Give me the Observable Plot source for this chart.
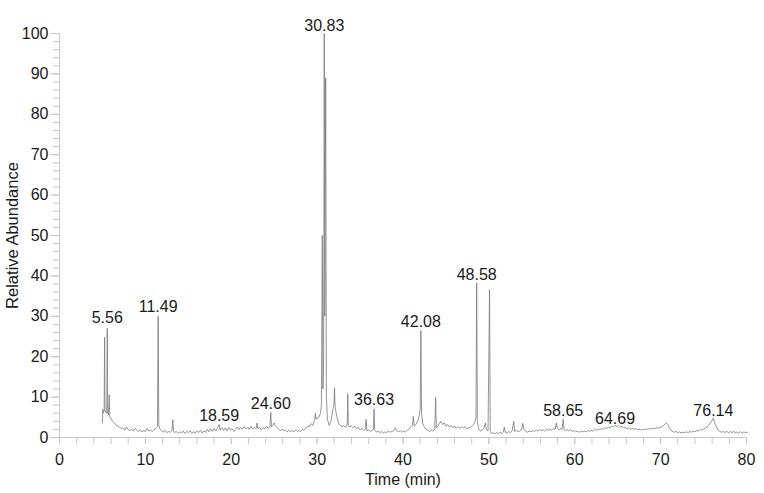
<!DOCTYPE html>
<html>
<head>
<meta charset="utf-8">
<script src="https://cdn.jsdelivr.net/npm/d3@7"></script>
<script src="https://cdn.jsdelivr.net/npm/@observablehq/plot@0.6"></script>
<style>
  html, body { margin: 0; padding: 0; background: #fff; }
</style>
</head>
<body>
<div id="chart"></div>
<script>
// Chromatogram trace: [time (min), relative abundance (%)]
const chromatogram = [
  [5.00,3.6],[5.05,7.0],[5.10,6.0],[5.20,6.5],[5.25,24.8],[5.30,6.8],[5.40,6.2],[5.50,6.0],[5.56,27.0],[5.62,6.0],
  [5.70,5.6],[5.80,10.6],[5.86,5.2],[6.00,4.6],[6.20,4.0],[6.40,3.6],[6.60,3.0],[6.80,2.8],[7.00,2.5],[7.20,2.2],
  [7.40,2.4],[7.60,1.8],[7.80,2.6],[8.00,1.9],[8.20,1.7],[8.40,2.1],[8.60,1.6],[8.80,2.3],[9.00,1.8],[9.20,1.5],
  [9.40,1.9],[9.60,1.4],[9.80,1.7],[10.00,1.5],[10.20,2.2],[10.40,1.6],[10.60,1.8],[10.80,1.5],[11.00,1.9],[11.20,2.2],
  [11.40,2.6],[11.49,30.0],[11.56,3.0],[11.70,2.0],[11.90,1.6],[12.10,1.3],[12.30,1.8],[12.50,1.2],[12.70,1.5],[12.90,1.3],
  [13.10,1.8],[13.20,4.4],[13.28,1.6],[13.40,1.2],[13.60,1.5],[13.80,1.0],[14.00,1.4],[14.20,1.1],[14.40,1.6],[14.60,1.0],
  [14.80,1.5],[15.00,1.2],[15.20,1.7],[15.40,1.0],[15.60,1.4],[15.80,1.1],[16.00,1.6],[16.20,1.2],[16.40,1.8],[16.60,1.1],
  [16.80,1.6],[17.00,1.3],[17.20,2.0],[17.40,1.4],[17.60,2.2],[17.80,1.5],[18.00,2.3],[18.20,1.6],[18.40,2.4],[18.59,3.2],
  [18.70,1.8],[18.90,2.5],[19.10,1.7],[19.30,2.4],[19.50,1.6],[19.70,2.5],[19.90,1.8],[20.10,2.2],[20.30,1.5],[20.50,2.0],
  [20.70,2.6],[20.90,1.9],[21.10,2.5],[21.30,2.0],[21.50,2.7],[21.70,2.1],[21.90,2.6],[22.10,2.0],[22.30,2.8],[22.50,2.1],
  [22.70,2.5],[22.90,2.2],[23.00,3.6],[23.10,2.2],[23.30,2.6],[23.50,1.9],[23.70,2.5],[23.90,2.1],[24.10,2.8],[24.30,2.3],
  [24.50,2.6],[24.60,6.2],[24.68,2.6],[24.80,3.0],[25.00,3.6],[25.10,3.0],[25.30,2.5],[25.50,2.0],[25.70,1.7],[25.90,2.1],
  [26.10,1.6],[26.30,1.9],[26.50,1.4],[26.70,1.8],[26.90,1.5],[27.10,1.7],[27.30,1.4],[27.50,1.9],[27.70,1.5],[27.90,1.7],
  [28.10,1.5],[28.30,2.0],[28.50,1.8],[28.70,2.3],[28.90,2.8],[29.10,2.6],[29.30,3.4],[29.50,3.0],[29.70,4.2],[29.80,6.0],
  [29.90,4.5],[30.00,4.8],[30.20,5.0],[30.40,6.0],[30.50,8.0],[30.60,50.0],[30.68,12.0],[30.76,20.0],[30.83,100.0],[30.90,30.0],
  [31.00,89.0],[31.08,10.0],[31.20,4.5],[31.40,3.0],[31.60,4.0],[31.80,6.5],[31.95,8.0],[32.02,12.3],[32.10,7.5],[32.30,5.0],
  [32.50,3.6],[32.70,3.0],[32.90,2.6],[33.10,3.0],[33.30,2.5],[33.50,3.2],[33.57,10.8],[33.64,3.0],[33.80,2.6],[34.00,2.9],
  [34.20,2.4],[34.40,2.8],[34.60,2.2],[34.80,2.5],[35.00,1.9],[35.20,2.3],[35.40,1.8],[35.60,2.0],[35.70,4.5],[35.80,1.6],
  [36.00,1.9],[36.20,1.5],[36.40,1.8],[36.55,2.0],[36.63,7.1],[36.70,1.8],[36.90,1.4],[37.10,1.6],[37.30,1.2],[37.50,1.5],
  [37.70,1.1],[37.90,1.4],[38.10,1.2],[38.30,1.6],[38.50,1.3],[38.70,1.5],[38.90,1.7],[39.10,2.4],[39.30,1.6],[39.50,1.4],
  [39.70,1.7],[39.90,1.3],[40.10,1.6],[40.30,1.4],[40.50,1.8],[40.70,2.0],[40.90,2.6],[41.10,3.0],[41.20,5.2],[41.30,2.8],
  [41.50,3.2],[41.70,4.0],[41.90,5.5],[42.00,7.0],[42.08,26.5],[42.16,6.0],[42.30,3.4],[42.50,2.6],[42.70,2.0],[42.90,1.8],
  [43.10,1.5],[43.30,1.8],[43.50,1.6],[43.70,2.0],[43.80,9.9],[43.88,2.4],[44.00,2.6],[44.20,3.4],[44.40,4.0],[44.60,3.2],
  [44.80,3.6],[45.00,2.8],[45.20,3.2],[45.40,2.6],[45.60,3.0],[45.80,2.4],[46.00,2.8],[46.20,2.3],[46.40,2.7],[46.60,2.2],
  [46.80,2.6],[47.00,2.3],[47.20,2.7],[47.40,2.2],[47.60,2.4],[47.80,2.5],[48.00,2.8],[48.20,3.2],[48.40,4.0],[48.50,5.0],
  [48.58,38.3],[48.66,4.0],[48.80,2.2],[49.00,1.6],[49.20,1.8],[49.40,2.2],[49.60,3.6],[49.70,2.0],[49.90,1.6],[50.08,36.6],
  [50.16,1.5],[50.30,1.0],[50.50,1.2],[50.70,0.9],[50.90,1.2],[51.10,0.9],[51.30,1.3],[51.50,1.0],[51.70,1.4],[51.80,2.6],
  [51.90,1.3],[52.10,1.1],[52.30,1.5],[52.50,1.2],[52.70,1.6],[52.90,4.0],[53.00,1.5],[53.20,1.8],[53.40,1.4],[53.60,1.7],
  [53.80,1.9],[53.95,3.5],[54.10,2.0],[54.30,1.5],[54.50,1.3],[54.70,1.6],[54.90,1.4],[55.10,1.7],[55.30,1.5],[55.50,1.9],
  [55.70,1.6],[55.90,2.0],[56.10,1.7],[56.30,1.9],[56.50,1.6],[56.70,2.0],[56.90,1.8],[57.10,2.1],[57.30,1.8],[57.50,2.2],
  [57.70,2.0],[57.85,3.6],[58.00,2.2],[58.20,1.9],[58.40,2.3],[58.52,2.0],[58.65,4.5],[58.75,2.0],[58.90,1.7],[59.10,2.0],
  [59.30,1.6],[59.50,1.9],[59.70,1.5],[59.90,1.7],[60.10,1.4],[60.30,1.6],[60.50,1.3],[60.70,1.5],[60.90,1.4],[61.10,1.6],
  [61.30,1.4],[61.50,1.7],[61.70,1.5],[61.90,1.8],[62.10,1.6],[62.30,2.0],[62.50,1.8],[62.70,2.1],[62.90,1.9],[63.10,2.2],
  [63.30,2.0],[63.50,2.4],[63.70,2.2],[63.90,2.6],[64.10,2.4],[64.30,2.8],[64.50,2.6],[64.69,3.0],[64.90,2.7],[65.10,2.9],
  [65.30,2.5],[65.50,2.8],[65.70,2.3],[65.90,2.5],[66.10,2.1],[66.30,2.4],[66.50,2.0],[66.70,2.3],[66.90,2.0],[67.10,2.2],
  [67.30,1.9],[67.50,2.1],[67.70,1.8],[67.90,2.0],[68.10,1.9],[68.30,2.1],[68.50,2.0],[68.70,2.2],[68.90,2.1],[69.10,2.3],
  [69.30,2.2],[69.50,2.4],[69.70,2.3],[69.90,2.5],[70.10,2.6],[70.30,2.9],[70.50,3.3],[70.70,3.6],[70.85,3.2],[71.00,2.4],
  [71.20,1.8],[71.40,1.5],[71.60,1.3],[71.80,1.5],[72.00,1.2],[72.20,1.4],[72.40,1.1],[72.60,1.3],[72.80,1.2],[73.00,1.4],
  [73.20,1.2],[73.40,1.5],[73.60,1.3],[73.80,1.6],[74.00,1.4],[74.20,1.7],[74.40,1.6],[74.60,1.9],[74.80,1.8],[75.00,2.1],
  [75.20,2.3],[75.40,2.6],[75.60,3.0],[75.80,3.6],[76.00,4.2],[76.14,4.8],[76.30,3.6],[76.50,2.6],[76.70,1.8],[76.90,1.5],
  [77.10,1.3],[77.30,1.5],[77.50,1.2],[77.70,1.6],[77.90,1.1],[78.10,1.5],[78.30,1.2],[78.50,1.6],[78.70,1.1],[78.90,1.4],
  [79.10,1.0],[79.30,1.5],[79.50,1.1],[79.70,1.4],[79.90,1.2],[80.10,1.3]
];

// Labelled peaks
const peakTimes   = [5.56, 11.49, 18.59, 24.60, 30.83, 36.63, 42.08, 48.58, 58.65, 64.69, 76.14];
const peakHeights = [27.5, 30.2, 3.3, 6.2, 100, 7.2, 26.6, 38.3, 4.5, 2.6, 4.5];

// Axis ticks
const xMajorTicks = [0, 10, 20, 30, 40, 50, 60, 70, 80];
const xMinorTicks = [0,2,4,6,8,10,12,14,16,18,20,22,24,26,28,30,32,34,36,38,40,42,44,46,48,50,52,54,56,58,60,62,64,66,68,70,72,74,76,78,80];
const yMajorTicks = [0, 10, 20, 30, 40, 50, 60, 70, 80, 90, 100];
const yMinorTicks = [0,2,4,6,8,10,12,14,16,18,20,22,24,26,28,30,32,34,36,38,40,42,44,46,48,50,52,54,56,58,60,62,64,66,68,70,72,74,76,78,80,82,84,86,88,90,92,94,96,98,100];

const xLabel = "Time (min)";
const yLabel = "Relative Abundance";

const peaks = peakTimes.map((t, i) => ({t, a: peakHeights[i], label: t.toFixed(2)}));

const axisGray = "#c8c8c8";
const textColor = "#1a1a1a";

const chart = Plot.plot({
  width: 764,
  height: 493,
  marginLeft: 59,
  marginRight: 18,
  marginTop: 33,
  marginBottom: 56,
  style: {fontFamily: "'Liberation Sans', Arial, Helvetica, sans-serif", fontSize: "16px", background: "#fff"},
  x: {domain: [0, 80]},
  y: {domain: [0, 100]},
  marks: [
    Plot.axisX({ticks: xMinorTicks, tickSize: 7, tickFormat: () => "", stroke: axisGray, label: null}),
    Plot.axisX({ticks: xMajorTicks, tickSize: 7, tickPadding: 9, tickFormat: d => String(d), stroke: axisGray, fill: textColor, label: null}),
    Plot.axisY({ticks: yMinorTicks, tickSize: 6, tickFormat: () => "", stroke: axisGray, label: null}),
    Plot.axisY({ticks: yMajorTicks, tickSize: 9, tickPadding: 2, tickFormat: d => String(d), stroke: axisGray, fill: textColor, label: null}),
    Plot.ruleY([0], {stroke: axisGray, strokeWidth: 1}),
    Plot.ruleX([0], {stroke: axisGray, strokeWidth: 1}),
    Plot.line(chromatogram, {x: d => d[0], y: d => d[1], stroke: "#7a7a7a", strokeWidth: 0.8}),
    Plot.text(peaks, {x: "t", y: "a", text: "label", dy: -3, lineAnchor: "bottom", fill: textColor, fontSize: 16}),
    Plot.text([xLabel], {frameAnchor: "bottom", text: d => d, dy: 47, textAnchor: "middle", lineAnchor: "bottom", fill: textColor, fontSize: 16}),
    Plot.text([yLabel], {frameAnchor: "left", text: d => d, dx: -47, rotate: -90, textAnchor: "middle", lineAnchor: "middle", fill: textColor, fontSize: 16.5})
  ]
});

document.getElementById("chart").appendChild(chart);
</script>
</body>
</html>
